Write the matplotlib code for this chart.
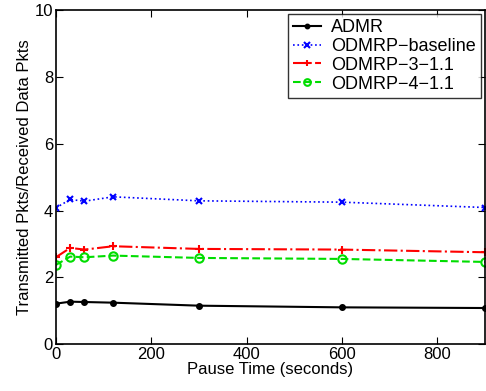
import matplotlib
matplotlib.use("Agg")
import matplotlib.pyplot as plt

plt.rcParams['font.family'] = ['Liberation Sans', 'DejaVu Sans']

pause = [0, 30, 60, 120, 300, 600, 900]
admr = [1.21, 1.27, 1.26, 1.24, 1.15, 1.10, 1.08]
baseline = [4.08, 4.33, 4.28, 4.41, 4.29, 4.25, 4.09]
odmrp31 = [2.60, 2.88, 2.83, 2.93, 2.85, 2.83, 2.75]
odmrp41 = [2.37, 2.62, 2.60, 2.65, 2.58, 2.55, 2.46]

fig = plt.figure(figsize=(4.86, 3.91), dpi=100)
ax = fig.add_axes([0.115, 0.12, 0.883, 0.854])

ax.plot(pause, admr, 'k.-', lw=1.5, ms=8, label='ADMR')
ax.plot(pause, baseline, 'x:', color='blue', lw=1.2, ms=5, mew=1.5, label='ODMRP\u2212baseline')
ax.plot(pause, odmrp31, '+-.', color='red', lw=1.5, ms=6, mew=1.5, label='ODMRP\u22123\u22121.1')
ax.plot(pause, odmrp41, 'o--', color='#00dd00', lw=1.5, ms=6, mew=1.5, mfc='none', label='ODMRP\u22124\u22121.1')

ax.set_xlim(0, 900)
ax.set_ylim(0, 10)
ax.set_xticks([0, 200, 400, 600, 800])
ax.set_yticks([0, 2, 4, 6, 8, 10])
ax.tick_params(direction='in', top=True, right=True, labelsize=12, length=5, pad=2)
for s in ax.spines.values():
    s.set_linewidth(1.2)
ax.set_xlabel('Pause Time (seconds)', fontsize=12, labelpad=0)
ax.set_ylabel('Transmitted Pkts/Received Data Pkts', fontsize=12, labelpad=2)

leg = ax.legend(loc='upper right', fontsize=13, frameon=True, fancybox=False,
                edgecolor='black', borderaxespad=0.2, handlelength=1.55,
                handletextpad=0.55, labelspacing=0.1, borderpad=0.3,
                markerscale=0.8)
leg.get_frame().set_linewidth(1.0)

fig.savefig('out.png', dpi=100)
